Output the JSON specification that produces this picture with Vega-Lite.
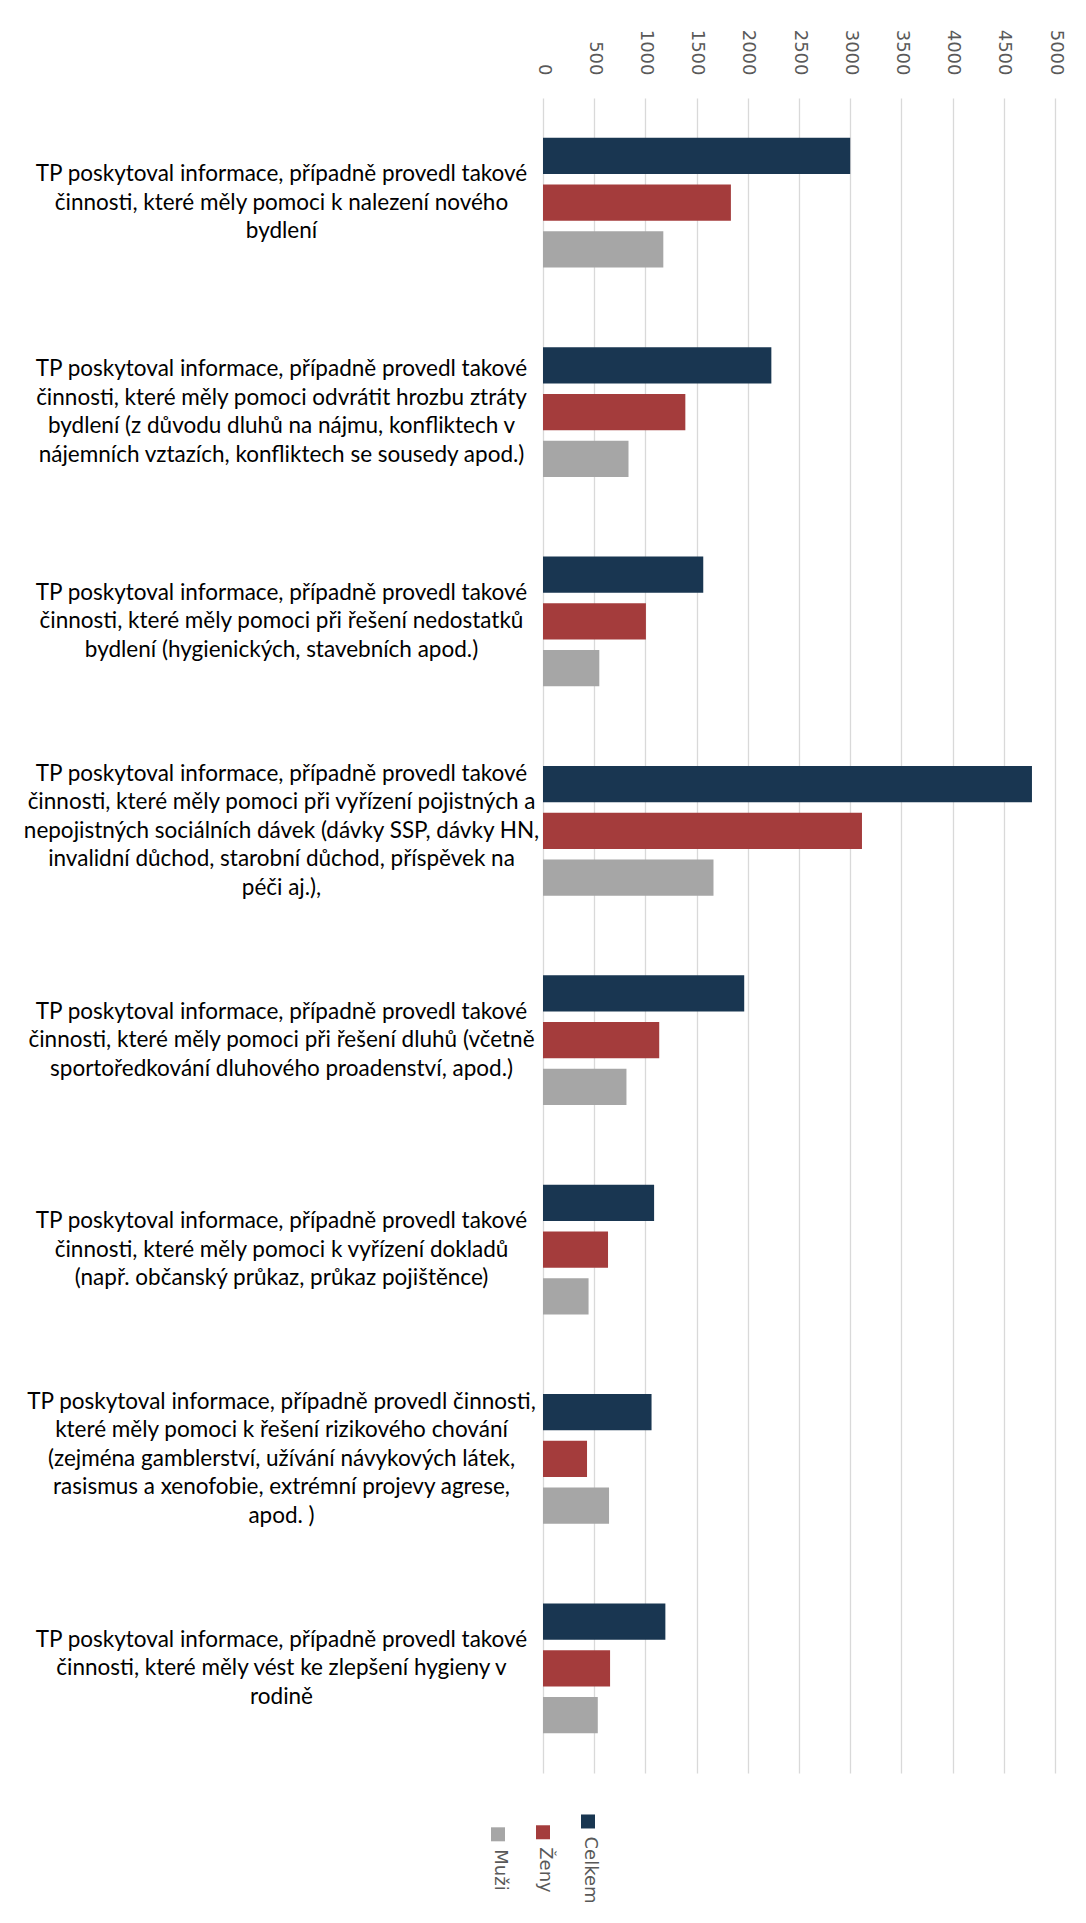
{
  "$schema": "https://vega.github.io/schema/vega-lite/v6.json",
  "autosize": {"type": "none"},
  "width": 512,
  "height": 1675,
  "padding": {"left": 543, "top": 98, "right": 31, "bottom": 150},
  "background": "white",
  "config": {"view": {"stroke": null}},
  "data": {"values": [
    {"cat": "TP poskytoval informace, případně provedl takové|činnosti, které měly pomoci k nalezení nového|bydlení", "series": "Celkem", "value": 3000},
    {"cat": "TP poskytoval informace, případně provedl takové|činnosti, které měly pomoci k nalezení nového|bydlení", "series": "Ženy", "value": 1835},
    {"cat": "TP poskytoval informace, případně provedl takové|činnosti, které měly pomoci k nalezení nového|bydlení", "series": "Muži", "value": 1175},
    {"cat": "TP poskytoval informace, případně provedl takové|činnosti, které měly pomoci odvrátit hrozbu ztráty|bydlení (z důvodu dluhů na nájmu, konfliktech v|nájemních vztazích, konfliktech se sousedy apod.)", "series": "Celkem", "value": 2230},
    {"cat": "TP poskytoval informace, případně provedl takové|činnosti, které měly pomoci odvrátit hrozbu ztráty|bydlení (z důvodu dluhů na nájmu, konfliktech v|nájemních vztazích, konfliktech se sousedy apod.)", "series": "Ženy", "value": 1390},
    {"cat": "TP poskytoval informace, případně provedl takové|činnosti, které měly pomoci odvrátit hrozbu ztráty|bydlení (z důvodu dluhů na nájmu, konfliktech v|nájemních vztazích, konfliktech se sousedy apod.)", "series": "Muži", "value": 835},
    {"cat": "TP poskytoval informace, případně provedl takové|činnosti, které měly pomoci při řešení nedostatků|bydlení (hygienických, stavebních apod.)", "series": "Celkem", "value": 1565},
    {"cat": "TP poskytoval informace, případně provedl takové|činnosti, které měly pomoci při řešení nedostatků|bydlení (hygienických, stavebních apod.)", "series": "Ženy", "value": 1005},
    {"cat": "TP poskytoval informace, případně provedl takové|činnosti, které měly pomoci při řešení nedostatků|bydlení (hygienických, stavebních apod.)", "series": "Muži", "value": 550},
    {"cat": "TP poskytoval informace, případně provedl takové|činnosti, které měly pomoci při vyřízení pojistných a|nepojistných sociálních dávek (dávky SSP, dávky HN,|invalidní důchod, starobní důchod, příspěvek na|péči aj.),", "series": "Celkem", "value": 4775},
    {"cat": "TP poskytoval informace, případně provedl takové|činnosti, které měly pomoci při vyřízení pojistných a|nepojistných sociálních dávek (dávky SSP, dávky HN,|invalidní důchod, starobní důchod, příspěvek na|péči aj.),", "series": "Ženy", "value": 3115},
    {"cat": "TP poskytoval informace, případně provedl takové|činnosti, které měly pomoci při vyřízení pojistných a|nepojistných sociálních dávek (dávky SSP, dávky HN,|invalidní důchod, starobní důchod, příspěvek na|péči aj.),", "series": "Muži", "value": 1665},
    {"cat": "TP poskytoval informace, případně provedl takové|činnosti, které měly pomoci při řešení dluhů (včetně|sportoředkování dluhového proadenství, apod.)", "series": "Celkem", "value": 1965},
    {"cat": "TP poskytoval informace, případně provedl takové|činnosti, které měly pomoci při řešení dluhů (včetně|sportoředkování dluhového proadenství, apod.)", "series": "Ženy", "value": 1135},
    {"cat": "TP poskytoval informace, případně provedl takové|činnosti, které měly pomoci při řešení dluhů (včetně|sportoředkování dluhového proadenství, apod.)", "series": "Muži", "value": 815},
    {"cat": "TP poskytoval informace, případně provedl takové|činnosti, které měly pomoci k vyřízení dokladů|(např. občanský průkaz, průkaz pojištěnce)", "series": "Celkem", "value": 1085},
    {"cat": "TP poskytoval informace, případně provedl takové|činnosti, které měly pomoci k vyřízení dokladů|(např. občanský průkaz, průkaz pojištěnce)", "series": "Ženy", "value": 635},
    {"cat": "TP poskytoval informace, případně provedl takové|činnosti, které měly pomoci k vyřízení dokladů|(např. občanský průkaz, průkaz pojištěnce)", "series": "Muži", "value": 445},
    {"cat": "TP poskytoval informace, případně provedl činnosti,|které měly pomoci k řešení rizikového chování|(zejména gamblerství, užívání návykových látek,|rasismus a xenofobie, extrémní projevy agrese,|apod. )", "series": "Celkem", "value": 1060},
    {"cat": "TP poskytoval informace, případně provedl činnosti,|které měly pomoci k řešení rizikového chování|(zejména gamblerství, užívání návykových látek,|rasismus a xenofobie, extrémní projevy agrese,|apod. )", "series": "Ženy", "value": 430},
    {"cat": "TP poskytoval informace, případně provedl činnosti,|které měly pomoci k řešení rizikového chování|(zejména gamblerství, užívání návykových látek,|rasismus a xenofobie, extrémní projevy agrese,|apod. )", "series": "Muži", "value": 645},
    {"cat": "TP poskytoval informace, případně provedl takové|činnosti, které měly vést ke zlepšení hygieny v|rodině", "series": "Celkem", "value": 1195},
    {"cat": "TP poskytoval informace, případně provedl takové|činnosti, které měly vést ke zlepšení hygieny v|rodině", "series": "Ženy", "value": 655},
    {"cat": "TP poskytoval informace, případně provedl takové|činnosti, které měly vést ke zlepšení hygieny v|rodině", "series": "Muži", "value": 535}
  ]},
  "mark": {"type": "bar"},
  "encoding": {
    "y": {
      "field": "cat", "type": "nominal", "sort": null,
      "scale": {"paddingInner": 0.38, "paddingOuter": 0.19},
      "axis": {
        "title": null, "domain": false, "ticks": false,
        "labelExpr": "split(datum.label, '|')",
        "labelAlign": "center", "labelBaseline": "middle",
        "labelPadding": 262, "labelLimit": 0,
        "labelFont": "Lato", "labelFontSize": 22.5, "labelLineHeight": 28.5,
        "labelColor": "#000000",
        "encoding": {"labels": {"dy": {"value": {"expr": "-(length(split(datum.value, '|')) - 1) * 14.25"}}}}
      }
    },
    "yOffset": {
      "field": "series", "type": "nominal",
      "sort": ["Celkem", "Ženy", "Muži"],
      "scale": {"paddingInner": 0.226, "paddingOuter": 0}
    },
    "x": {
      "field": "value", "type": "quantitative",
      "scale": {"domain": [0, 5000], "nice": false},
      "axis": {
        "orient": "top", "title": null, "domain": false, "ticks": false,
        "values": [0, 500, 1000, 1500, 2000, 2500, 3000, 3500, 4000, 4500, 5000],
        "format": "d",
        "labelAngle": 90, "labelAlign": "right", "labelBaseline": "middle",
        "labelPadding": 23, "labelFont": "DejaVu Sans", "labelFontSize": 18,
        "labelColor": "#595959",
        "grid": true, "gridColor": "#d9d9d9", "gridWidth": 1.3
      }
    },
    "color": {
      "field": "series", "type": "nominal",
      "scale": {"domain": ["Celkem", "Ženy", "Muži"], "range": ["#193651", "#A43C3C", "#A6A6A6"]},
      "legend": {
        "title": null, "orient": "none", "legendX": -54, "legendY": 1714,
        "direction": "horizontal",
        "values": ["Muži", "Ženy", "Celkem"],
        "symbolType": "square", "symbolSize": 196, "symbolStrokeWidth": 0,
        "labelFont": "DejaVu Sans", "labelFontSize": 18, "labelColor": "#595959",
        "labelOffset": 0, "columnPadding": 24, "padding": 0,
        "encoding": {"labels": {"angle": {"value": 90}, "dx": {"value": 15}, "dy": {"value": 7}}}
      }
    }
  }
}
